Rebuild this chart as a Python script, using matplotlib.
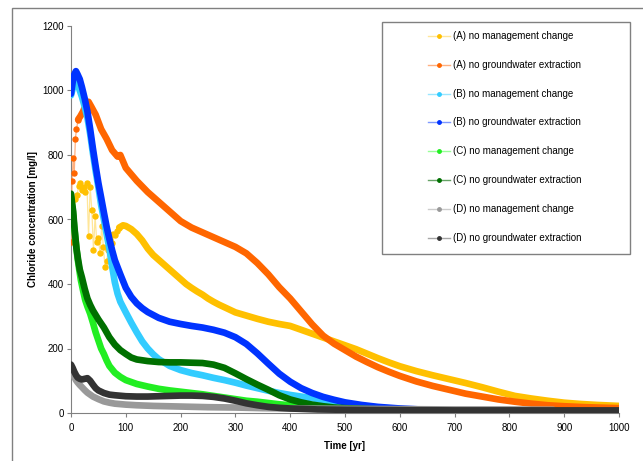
import matplotlib
matplotlib.use("Agg")
import matplotlib.pyplot as plt
from matplotlib.patches import Rectangle
from matplotlib.lines import Line2D
import numpy as np

plt.rcParams["font.family"] = ["Liberation Sans", "DejaVu Sans"]

labels = ["(A) no management change", "(A) no groundwater extraction",
          "(B) no management change", "(B) no groundwater extraction",
          "(C) no management change", "(C) no groundwater extraction",
          "(D) no management change", "(D) no groundwater extraction"]

# noisy start of the (A) series (drawn as dots joined by thin light lines)
a_mgmt_start_t = [0, 4, 8, 11, 14, 17, 20, 23, 26, 29, 32, 35, 38, 41, 44, 47, 50, 53, 56, 59,
                  62, 65, 68, 71, 74, 77, 80, 84, 88]
a_mgmt_start_v = [560, 610, 665, 675, 705, 712, 690, 700, 686, 712, 548, 700, 630, 505, 610, 530,
                  542, 496, 580, 516, 453, 470, 505, 540, 527, 555, 552, 565, 575]
a_gw_start_t = [0, 1, 2, 4, 6, 8, 10, 13]
a_gw_start_v = [530, 640, 720, 790, 745, 850, 880, 910]

# main bands
a_mgmt_t = [88, 95, 100, 110, 120, 130, 140, 150, 160, 170, 180, 190, 200, 210, 220, 230, 240,
            250, 260, 270, 280, 290, 300, 320, 340, 360, 380, 400, 420, 440, 460, 480, 500, 520,
            540, 560, 580, 600, 630, 660, 690, 720, 750, 780, 810, 840, 870, 900, 930, 960, 1000]
a_mgmt_v = [575, 582, 580, 570, 555, 535, 510, 490, 475, 460, 445, 430, 415, 400, 388, 377, 367,
            355, 345, 336, 328, 320, 312, 302, 292, 283, 276, 270, 258, 246, 234, 222, 210, 198,
            184, 170, 157, 145, 130, 117, 105, 93, 80, 66, 53, 45, 38, 32, 28, 25, 22]

a_gw_t = [13, 17, 22, 27, 32, 37, 45, 55, 65, 75, 85, 90, 100, 120, 140, 160, 180, 200, 220, 240,
          260, 280, 300, 320, 340, 360, 380, 400, 420, 440, 460, 480, 500, 520, 540, 560, 580,
          600, 630, 660, 690, 720, 750, 780, 810, 840, 870, 900, 940, 1000]
a_gw_v = [910, 920, 935, 955, 965, 950, 925, 880, 850, 815, 795, 800, 760, 720, 685, 655, 625,
          595, 575, 560, 545, 530, 515, 495, 465, 430, 390, 355, 315, 275, 240, 215, 195, 175,
          158, 142, 128, 115, 98, 84, 72, 60, 51, 42, 35, 29, 24, 21, 18, 15]

b_mgmt_t = [0, 3, 6, 9, 12, 16, 20, 25, 30, 35, 40, 45, 50, 55, 60, 65, 70, 75, 80, 85, 90, 100,
            110, 120, 130, 140, 150, 160, 180, 200, 220, 240, 260, 280, 300, 320, 340, 360, 380,
            400, 420, 440, 460, 480, 500, 530, 560, 600, 650, 700, 750]
b_mgmt_v = [985, 1005, 1025, 1030, 1020, 1000, 980, 950, 915, 865, 805, 750, 700, 645, 600, 555,
            510, 455, 405, 370, 345, 312, 280, 250, 222, 200, 182, 167, 146, 133, 124, 117, 109,
            102, 94, 85, 77, 69, 62, 56, 51, 46, 40, 34, 28, 22, 17, 12, 8, 5, 4]

b_gw_t = [0, 3, 6, 9, 12, 16, 20, 25, 30, 35, 40, 45, 50, 55, 60, 65, 70, 75, 80, 90, 100, 110,
          120, 130, 140, 150, 160, 180, 200, 220, 240, 260, 280, 300, 320, 340, 360, 380, 400,
          420, 440, 460, 480, 500, 530, 560, 600, 650, 700, 750]
b_gw_v = [990, 1025, 1050, 1060, 1050, 1035, 1010, 975, 935, 880, 820, 765, 713, 668, 622, 578,
          540, 505, 474, 430, 388, 360, 340, 325, 313, 304, 295, 283, 276, 270, 265, 258, 249,
          235, 214, 185, 153, 122, 97, 77, 62, 50, 41, 33, 25, 19, 14, 10, 7, 5]

c_mgmt_t = [0, 3, 6, 9, 12, 15, 18, 22, 26, 30, 35, 40, 45, 50, 55, 60, 65, 70, 80, 90, 100, 120,
            140, 160, 180, 200, 220, 240, 260, 280, 300, 320, 340, 360, 380, 400, 440, 480, 520,
            560, 600, 700, 800, 1000]
c_mgmt_v = [670, 630, 575, 525, 480, 445, 412, 380, 350, 330, 308, 280, 250, 225, 200, 183, 163,
            146, 125, 112, 102, 90, 82, 75, 70, 66, 62, 58, 53, 48, 43, 38, 35, 31, 27, 24, 19,
            15, 12, 10, 8, 6, 5, 4]

c_gw_t = [0, 2, 4, 6, 8, 10, 13, 16, 20, 25, 30, 35, 40, 50, 60, 70, 80, 90, 100, 110, 120, 140,
          160, 180, 200, 220, 240, 260, 280, 300, 320, 340, 360, 380, 400, 420, 440, 460, 480,
          500, 550, 600, 700, 800, 1000]
c_gw_v = [680, 650, 625, 580, 545, 510, 475, 445, 420, 385, 355, 335, 318, 290, 265, 235, 212,
          195, 183, 172, 166, 161, 158, 157, 157, 156, 155, 150, 140, 123, 105, 88, 72, 55, 42,
          33, 26, 21, 17, 15, 12, 10, 8, 6, 5]

d_mgmt_t = [0, 3, 6, 9, 12, 16, 20, 25, 30, 35, 40, 50, 60, 70, 80, 100, 120, 150, 200, 250, 300,
            350, 400, 500, 600, 700, 800, 880]
d_mgmt_v = [140, 125, 112, 102, 95, 87, 80, 71, 63, 57, 51, 43, 36, 32, 29, 26, 24, 22, 20, 18,
            17, 15, 14, 13, 12, 11, 11, 10]

d_gw_t = [0, 3, 6, 9, 12, 16, 20, 25, 30, 35, 40, 45, 50, 60, 70, 80, 100, 120, 140, 160, 180,
          200, 220, 240, 260, 280, 300, 320, 340, 360, 380, 400, 450, 500, 600, 700, 800, 900, 1000]
d_gw_v = [150, 140, 128, 118, 110, 106, 104, 106, 108, 100, 88, 77, 70, 62, 57, 55, 52, 51, 51,
          52, 53, 54, 54, 53, 50, 45, 38, 30, 24, 19, 16, 14, 11, 10, 9, 8, 8, 8, 8]

series = [(a_mgmt_t, a_mgmt_v), (a_gw_t, a_gw_v), (b_mgmt_t, b_mgmt_v), (b_gw_t, b_gw_v),
          (c_mgmt_t, c_mgmt_v), (c_gw_t, c_gw_v), (d_mgmt_t, d_mgmt_v), (d_gw_t, d_gw_v)]
starts = {0: (a_mgmt_start_t, a_mgmt_start_v), 1: (a_gw_start_t, a_gw_start_v)}

colors = ["#FFC000", "#FF6600", "#33CCFF", "#0033FF", "#22EE22", "#007000", "#999999", "#333333"]
light = ["#FFE699", "#FFB080", "#99E6FF", "#7F99FF", "#99FF99", "#66A366", "#CCCCCC", "#A6A6A6"]

fig = plt.figure(figsize=(6.43, 4.61), dpi=100)
ax = fig.add_axes([71 / 643, 48 / 461, 548 / 643, 387 / 461])

for i, (t, v) in enumerate(series):
    if i in starts:
        st, sv = starts[i]
        ax.plot(st, sv, color=light[i], lw=0.9, zorder=2 + i)
        ax.plot(st, sv, ls="none", marker="o", ms=3.6, color=colors[i], mec=colors[i], zorder=2 + i)
    ax.plot(t, v, color=colors[i], lw=4.8, solid_capstyle="round", zorder=2 + i)

ax.set_xlim(0, 1000)
ax.set_ylim(0, 1200)
ax.set_xticks(np.arange(0, 1001, 100))
ax.set_yticks(np.arange(0, 1201, 200))
for s in ["top", "right"]:
    ax.spines[s].set_visible(False)
for s in ["left", "bottom"]:
    ax.spines[s].set_color("#808080")
    ax.spines[s].set_linewidth(0.8)
ax.tick_params(length=3, width=0.8, color="#808080", labelsize=7, pad=2)
ax.tick_params(axis="x", pad=4)
ax.set_xlabel("Time [yr]", fontsize=7, fontweight="bold", labelpad=6)
ax.set_ylabel("Chloride concentration [mg/l]", fontsize=7, fontweight="bold", labelpad=3)

# outer chart frame (left and top edges visible)
fig.add_artist(Rectangle((12 / 643, -0.05), 1.2, 1.05 - 8 / 461, transform=fig.transFigure,
                         fill=False, ec="#808080", lw=1.0))

# legend box
fig.add_artist(Rectangle((382 / 643, 1 - 254 / 461), 248 / 643, 232 / 461,
                         transform=fig.transFigure, fc="white", ec="#808080", lw=1.0, zorder=10))
for i, lab in enumerate(labels):
    y = 1 - (36 + i * 28.8) / 461
    fig.add_artist(Line2D([428 / 643, 450 / 643], [y, y], transform=fig.transFigure,
                          color=light[i], lw=1.0, zorder=11))
    fig.add_artist(Line2D([439 / 643], [y], transform=fig.transFigure, marker="o", ms=2.5,
                          color=colors[i], zorder=12))
    fig.text(453 / 643, y, lab, fontsize=7, va="center", ha="left", zorder=12)

fig.savefig("out.png", dpi=100)
